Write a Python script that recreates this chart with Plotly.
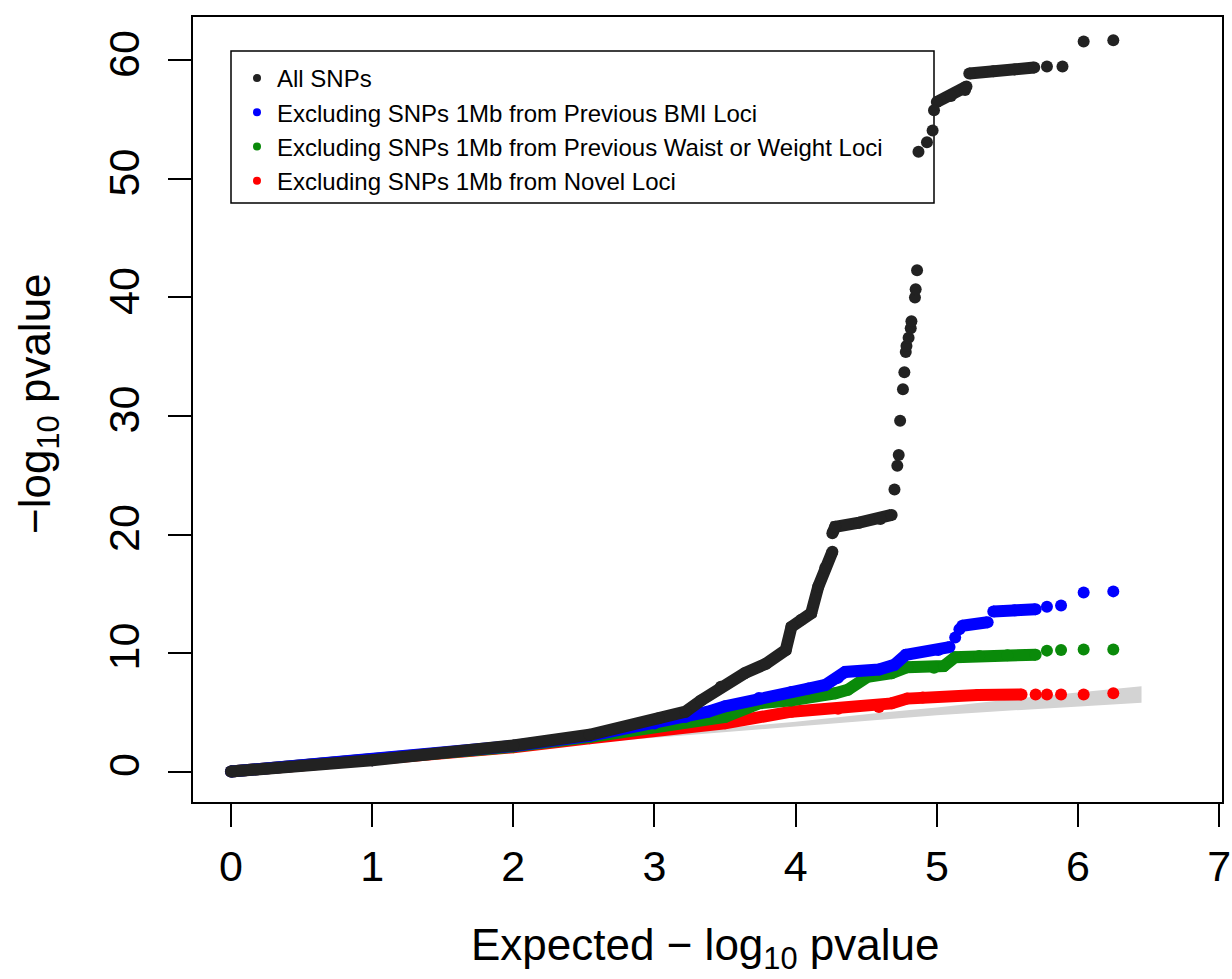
import plotly.graph_objects as go

# ---------------- data ----------------
series_names = [
    "All SNPs",
    "Excluding SNPs 1Mb from Previous BMI Loci",
    "Excluding SNPs 1Mb from Previous Waist or Weight Loci",
    "Excluding SNPs 1Mb from Novel Loci",
]
series_colors = ["#222222", "#0000ff", "#0a8a0a", "#ff0000"]

x_title = "Expected \u2212 log<sub>10</sub> pvalue"
y_title = "\u2212log<sub>10</sub> pvalue"

# 95% band around the null line
ci_x = [0, 1, 2, 3, 4, 4.6, 5.0, 5.6, 6.0, 6.45]
ci_lo = [0, 0.95, 1.95, 2.85, 3.8, 4.35, 4.75, 5.2, 5.5, 5.8]
ci_hi = [0, 1.05, 2.1, 3.15, 4.2, 4.95, 5.4, 6.2, 6.7, 7.2]

# All SNPs: dense runs of points (None separates runs) and isolated points
black_band_x = [0, 1.0, 2.0, 2.54, 3.03, 3.22, 3.33, 3.47, 3.64, 3.79, 3.93, 3.97, 4.04, 4.11, 4.16, 4.21, 4.26,
                None, 4.26, 4.28, 4.45, 4.60, 4.68,
                None, 5.0, 5.10, 5.20, 5.21,
                None, 5.23, 5.40, 5.55, 5.69]
black_band_y = [0, 0.95, 2.2, 3.1, 4.5, 5.05, 6.0, 7.15, 8.3, 9.1, 10.25, 12.2, 12.8, 13.35, 15.6, 17.2, 18.55,
                None, 20.1, 20.65, 21.0, 21.3, 21.65,
                None, 56.5, 57.0, 57.5, 57.8,
                None, 58.9, 59.1, 59.25, 59.4]
black_pts_x = [4.70, 4.72, 4.73, 4.74, 4.76, 4.77, 4.78, 4.785, 4.80, 4.815, 4.82, 4.845, 4.85, 4.86,
               4.87, 4.93, 4.97, 4.98, 5.78, 5.89, 6.04, 6.25]
black_pts_y = [23.8, 25.8, 26.7, 29.6, 32.25, 33.7, 35.4, 35.9, 36.6, 37.4, 38.0, 40.0, 40.7, 42.3,
               52.3, 53.1, 54.1, 55.8, 59.5, 59.5, 61.6, 61.7]

# Excluding previous BMI loci
blue_band_x = [0, 1.0, 2.0, 2.54, 3.0, 3.22, 3.38, 3.5, 3.74, 3.97, 4.09, 4.21, 4.30, 4.35, 4.59, 4.70, 4.78,
               5.01, 5.09, None, 5.18, 5.36, None, 5.40, 5.55, 5.70]
blue_band_y = [0, 0.95, 2.15, 3.0, 4.05, 4.6, 5.05, 5.5, 6.2, 6.7, 7.0, 7.3, 7.9, 8.4, 8.6, 9.0, 9.85,
               10.25, 10.5, None, 12.3, 12.6, None, 13.5, 13.6, 13.7]
blue_pts_x = [5.13, 5.16, 5.78, 5.88, 6.04, 6.25]
blue_pts_y = [11.3, 12.0, 13.9, 14.0, 15.1, 15.2]

# Excluding previous waist or weight loci
green_band_x = [0, 1.0, 2.0, 2.54, 3.0, 3.22, 3.5, 3.74, 3.97, 4.28, 4.37, 4.51, 4.68, 4.79, 4.98, 5.05,
                5.13, 5.30, 5.50, 5.70]
green_band_y = [0, 0.95, 2.1, 2.9, 3.8, 4.2, 4.6, 5.75, 6.0, 6.6, 6.9, 8.0, 8.3, 8.8, 8.75, 8.9,
                9.65, 9.75, 9.8, 9.85]
green_pts_x = [5.78, 5.88, 6.04, 6.25]
green_pts_y = [10.2, 10.25, 10.3, 10.3]

# Excluding novel loci
red_band_x = [0, 1.0, 2.0, 2.54, 3.0, 3.5, 3.97, 4.3, 4.59, 4.68, 4.79, 4.9, 5.29, 5.60]
red_band_y = [0, 0.95, 2.05, 2.8, 3.5, 4.07, 5.05, 5.3, 5.45, 5.75, 6.15, 6.25, 6.45, 6.5]
red_pts_x = [5.70, 5.78, 5.88, 6.04, 6.25]
red_pts_y = [6.5, 6.5, 6.5, 6.5, 6.6]

x_ticks = [0, 1, 2, 3, 4, 5, 6, 7]
y_ticks = [0, 10, 20, 30, 40, 50, 60]

# ---------------- figure ----------------
FONT = "Liberation Sans, Arial, sans-serif"
MS = 12

fig = go.Figure()

fig.add_trace(go.Scatter(
    x=ci_x + ci_x[::-1], y=ci_hi + ci_lo[::-1],
    fill="toself", fillcolor="#d3d3d3", mode="lines", line=dict(width=0, color="#d3d3d3"),
    showlegend=False, hoverinfo="skip"))

bands = [(red_band_x, red_band_y, red_pts_x, red_pts_y, 3),
         (green_band_x, green_band_y, green_pts_x, green_pts_y, 2),
         (blue_band_x, blue_band_y, blue_pts_x, blue_pts_y, 1),
         (black_band_x, black_band_y, black_pts_x, black_pts_y, 0)]

for bx, by, px, py, k in bands:
    c = series_colors[k]
    fig.add_trace(go.Scatter(x=bx, y=by, mode="lines+markers",
                             line=dict(color=c, width=MS), marker=dict(color=c, size=MS),
                             connectgaps=False, showlegend=False, legendgroup=str(k)))
    fig.add_trace(go.Scatter(x=px, y=py, mode="markers", marker=dict(color=c, size=MS),
                             showlegend=False, legendgroup=str(k)))

# legend entries
for k in range(4):
    fig.add_trace(go.Scatter(x=[None], y=[None], mode="markers", name=series_names[k],
                             marker=dict(color=series_colors[k], size=8), legendgroup=str(k),
                             showlegend=True))

W, H = 1232, 979
L, R, T, B = 193, 10, 17, 177
pw, ph = W - L - R, H - T - B

def px_x(p):
    return (p - L) / pw

def px_y(p):
    return (H - B - p) / ph

fig.add_shape(type="rect", xref="paper", yref="paper",
              x0=px_x(231), x1=px_x(934), y0=px_y(203), y1=px_y(51),
              line=dict(color="black", width=1.5), layer="below")

# axis titles
fig.add_annotation(text=x_title, xref="paper", yref="paper",
                   x=px_x(705), y=px_y(918), xanchor="center", yanchor="top",
                   showarrow=False, font=dict(size=44, family=FONT, color="black"))
fig.add_annotation(text=y_title, xref="paper", yref="paper", textangle=-90,
                   x=px_x(8), y=px_y(404), xanchor="left", yanchor="middle",
                   showarrow=False, font=dict(size=44, family=FONT, color="black"))

fig.update_layout(
    width=W, height=H,
    margin=dict(l=L, r=R, t=T, b=B, pad=0, autoexpand=False),
    paper_bgcolor="white", plot_bgcolor="white",
    font=dict(family=FONT, color="black"),
    showlegend=True,
    legend=dict(x=px_x(237), y=px_y(56), xanchor="left", yanchor="top",
                bgcolor="rgba(0,0,0,0)", borderwidth=0,
                font=dict(size=24, family=FONT, color="black"),
                traceorder="normal", tracegroupgap=0),
    xaxis=dict(range=[-0.269, 7.02], tickmode="array", tickvals=x_ticks,
               ticks="outside", ticklen=23, tickwidth=1.5, tickcolor="black",
               showline=True, linecolor="black", linewidth=1.5, mirror=True,
               showgrid=False, zeroline=False, ticklabelstandoff=3,
               ticklabeloverflow="allow", automargin=False,
               tickfont=dict(size=43, family=FONT)),
    yaxis=dict(range=[-2.574, 63.67], tickmode="array", tickvals=y_ticks,
               ticks="outside", ticklen=23, tickwidth=1.5, tickcolor="black",
               showline=True, linecolor="black", linewidth=1.5, mirror=True,
               showgrid=False, zeroline=False, tickangle=-90, ticklabelstandoff=12,
               ticklabeloverflow="allow", automargin=False,
               tickfont=dict(size=43, family=FONT)),
)

fig.write_html("out.html")
